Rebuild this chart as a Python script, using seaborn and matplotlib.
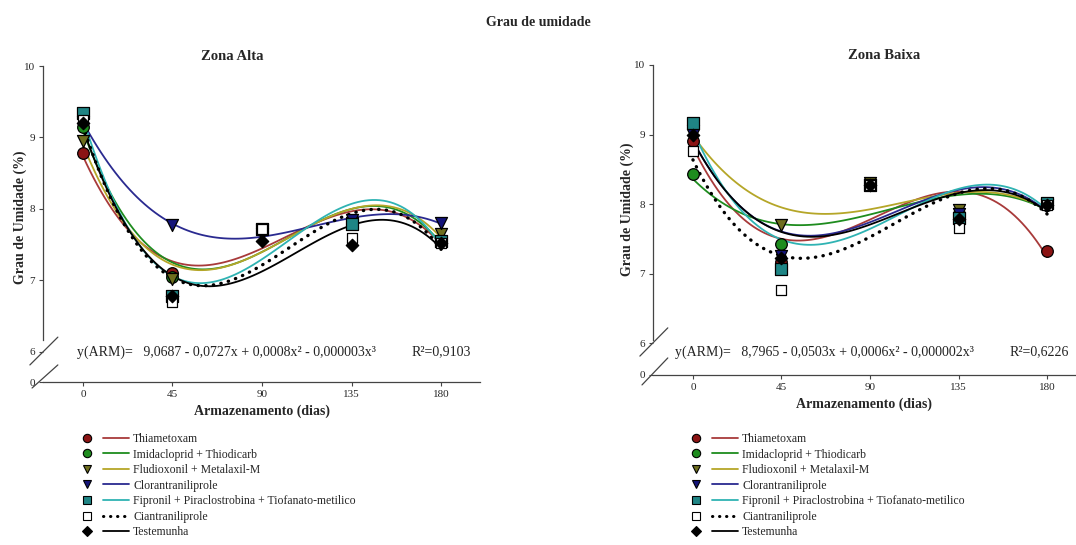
import numpy as np
import pandas as pd
import matplotlib
matplotlib.use("Agg")
import matplotlib.pyplot as plt
import seaborn as sns
from matplotlib.lines import Line2D
from matplotlib.legend_handler import HandlerTuple

sns.set_style("ticks")
plt.rcParams['font.family'] = ['Liberation Serif', 'DejaVu Serif']

# ---------------- data ----------------
days = [0, 45, 90, 135, 180]
treatments = ["Thiametoxam", "Imidacloprid + Thiodicarb", "Fludioxonil + Metalaxil-M",
              "Clorantraniliprole", "Fipronil + Piraclostrobina + Tiofanato-metilico",
              "Ciantraniliprole", "Testemunha"]

# Zona Alta
alta_thiametoxam = [8.78, 7.10, 7.70, 7.80, 7.55]
alta_imidacloprid = [9.14, 7.05, 7.70, 7.80, 7.57]
alta_fludioxonil = [8.95, 7.02, 7.70, 7.80, 7.65]
alta_clorantraniliprole = [9.22, 7.77, 7.65, 7.85, 7.80]
alta_fipronil = [9.34, 6.78, 7.72, 7.79, 7.55]
alta_ciantraniliprole = [9.25, 6.70, 7.72, 7.60, 7.52]
alta_testemunha = [9.20, 6.78, 7.55, 7.49, 7.52]

# Zona Baixa
baixa_thiametoxam = [8.90, 7.17, 8.27, 7.85, 7.32]
baixa_imidacloprid = [8.43, 7.43, 8.27, 7.85, 7.98]
baixa_fludioxonil = [9.05, 7.70, 8.30, 7.91, 7.98]
baixa_clorantraniliprole = [9.00, 7.25, 8.27, 7.85, 7.98]
baixa_fipronil = [9.16, 7.07, 8.27, 7.80, 8.02]
baixa_ciantraniliprole = [8.76, 6.76, 8.27, 7.66, 7.98]
baixa_testemunha = [9.00, 7.22, 8.27, 7.78, 7.98]

eq_alta = "y(ARM)=   9,0687 - 0,0727x + 0,0008x² - 0,000003x³"
r2_alta = "R²=0,9103"
eq_baixa = "y(ARM)=   8,7965 - 0,0503x + 0,0006x² - 0,000002x³"
r2_baixa = "R²=0,6226"
xticks = [0, 45, 90, 135, 180]
yticks = [6, 7, 8, 9, 10]

# ---------------- styles ----------------
DOT = (0, (0.1, 2.2))
styles = [
    dict(marker='o', face='#8B1414', line='#A83A3A', ls='-', s=70),
    dict(marker='o', face='#1E8C1E', line='#1E8C1E', ls='-', s=70),
    dict(marker='v', face='#6E6E1E', line='#B5A628', ls='-', s=75),
    dict(marker='v', face='#14147A', line='#2A2A90', ls='-', s=75),
    dict(marker='s', face='#1F8585', line='#2FB3B3', ls='-', s=70),
    dict(marker='s', face='white', line='black', ls=DOT, s=45),
    dict(marker='D', face='black', line='black', ls='-', s=40),
]

alta = [alta_thiametoxam, alta_imidacloprid, alta_fludioxonil, alta_clorantraniliprole,
        alta_fipronil, alta_ciantraniliprole, alta_testemunha]
baixa = [baixa_thiametoxam, baixa_imidacloprid, baixa_fludioxonil, baixa_clorantraniliprole,
         baixa_fipronil, baixa_ciantraniliprole, baixa_testemunha]

W, H = 1076, 545
fig = plt.figure(figsize=(W / 100, H / 100), dpi=100)

def px_axes(x0, x1, ybot, ytop):
    return fig.add_axes([x0 / W, 1 - ybot / H, (x1 - x0) / W, (ybot - ytop) / H])

ax1 = px_axes(43, 480, 382, 66)
ax2 = px_axes(653, 1076, 375, 65)

panels = [
    dict(ax=ax1, series=alta, title="Zona Alta", xl=(-20.1, 199.6), ybot=5.58,
         eq=eq_alta, r2=r2_alta, eqpos=(-3, 6.0), r2x=165, titlex=0.432,
         ylab=(-0.036, 0.522),
         s1=((-0.030, 0.034), (0.054, 0.142)), s2=((-0.025, 0.034), (-0.019, 0.054)),
         spine_lo=6.17),
    dict(ax=ax2, series=baixa, title="Zona Baixa", xl=(-20.3, 194.7), ybot=5.54,
         eq=eq_baixa, r2=r2_baixa, eqpos=(-9.2, 5.87), r2x=161, titlex=0.546,
         ylab=(-0.045, 0.535),
         s1=((-0.031, 0.035), (0.061, 0.152)), s2=((-0.026, 0.035), (-0.032, 0.055)),
         spine_lo=6.05),
]

for p in panels:
    ax = p['ax']
    for vals, st in zip(p['series'], styles):
        df = pd.DataFrame({"dias": days, "umidade": vals})
        sns.regplot(data=df, x="dias", y="umidade", order=3, ci=None, ax=ax,
                    marker=st['marker'],
                    scatter_kws=dict(s=st['s'], color=st['face'], edgecolors='black',
                                     linewidths=0.9, zorder=3, alpha=1),
                    line_kws=dict(color=st['line'], lw=1.3 if st['ls'] == '-' else 2.4,
                                  ls=st['ls'], zorder=2, dash_capstyle='round'))
    ax.set_xlim(*p['xl'])
    ax.set_ylim(p['ybot'], 10)
    ax.set_xticks(xticks)
    ax.set_xticklabels([str(t) for t in xticks], fontsize=8)
    ax.set_yticks([p['ybot']] + yticks)
    ax.set_yticklabels(['0'] + [str(t) for t in yticks], fontsize=8)
    ax.tick_params(axis='both', length=3, width=0.8, color='#444444', pad=3)
    sns.despine(ax=ax)
    ax.spines['left'].set_bounds(p['spine_lo'], 10)
    for sp in ('left', 'bottom'):
        ax.spines[sp].set_color('#444444')
        ax.spines[sp].set_linewidth(0.9)
    ax.set_xlabel("Armazenamento (dias)", fontsize=10, fontweight='bold', labelpad=4)
    ax.set_ylabel("Grau de Umidade (%)", fontsize=10, fontweight='bold')
    ax.yaxis.set_label_coords(*p['ylab'])
    ax.set_title(p['title'], fontsize=10.5, fontweight='bold', pad=4, x=p['titlex'])
    ax.text(p['eqpos'][0], p['eqpos'][1], p['eq'], fontsize=10, va='center', ha='left',
            color='#222222')
    ax.text(p['r2x'], p['eqpos'][1], p['r2'], fontsize=10, va='center', ha='left',
            color='#222222')
    for key in ('s1', 's2'):
        (xa, xb), (ya, yb) = p[key]
        ax.plot([xa, xb], [ya, yb], transform=ax.transAxes, color='#444444', lw=0.9,
                clip_on=False)

fig.text(538 / W, 1 - 22 / H, "Grau de umidade", ha='center', va='center',
         fontsize=10, fontweight='bold')

# legends
handles = []
for st in styles:
    mk = Line2D([], [], marker=st['marker'], ls='none', markerfacecolor=st['face'],
                markeredgecolor='black', markeredgewidth=0.8,
                markersize=6 if st['marker'] != 'D' else 5)
    ln = Line2D([], [], color=st['line'], ls=st['ls'],
                lw=1.3 if st['ls'] == '-' else 2.2, dash_capstyle='round')
    handles.append((mk, ln))

for x0 in (74, 683):
    fig.legend(handles=handles, labels=treatments, loc='upper left',
               bbox_to_anchor=(x0 / W, 1 - 433 / H), frameon=False, fontsize=8.5,
               handler_map={tuple: HandlerTuple(ndivide=None, pad=0.13)},
               handlelength=4.7, handletextpad=0.3, labelspacing=0.3,
               borderpad=0, borderaxespad=0)

fig.savefig("out.png", dpi=100)
